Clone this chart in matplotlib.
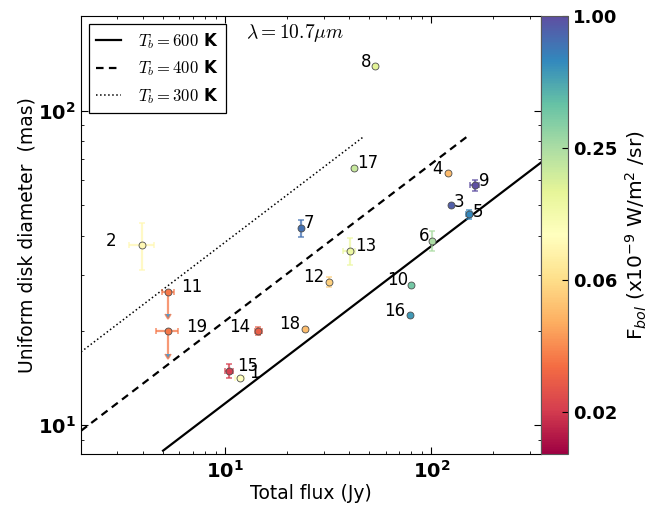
import numpy as np
import matplotlib
matplotlib.use('Agg')
import matplotlib.pyplot as plt
from matplotlib.colors import LogNorm
from matplotlib.cm import ScalarMappable
from matplotlib.font_manager import FontProperties
from matplotlib.lines import Line2D
from matplotlib.ticker import FuncFormatter, LogLocator, NullFormatter

# ---------------- data ----------------
names = [str(i) for i in range(1, 20)]
flux = [11.8, 3.95, 124, 121, 152, 101, 23.3, 53, 162, 79.6,
        5.27, 31.8, 40.1, 14.5, 10.4, 78.5, 42.1, 24.5, 5.27]
diam = [14.1, 37.5, 50.2, 63.2, 46.8, 38.6, 42.3, 138.7, 57.9, 28.0,
        26.6, 28.6, 35.9, 19.9, 14.9, 22.4, 65.8, 20.2, 19.9]
flux_err = [0.6, 0.55, 0, 0, 5, 0, 0, 0, 7.5, 0,
            0.35, 0, 2.7, 0.57, 0.46, 0, 0, 0, 0.63]
diam_err = [0, 6.3, 0, 0, 1.5, 2.9, 2.5, 0, 2.4, 0,
            4.0, 1.0, 3.5, 0.6, 0.8, 0, 0, 0, 3.0]
upper_limit = [False] * 10 + [True] + [False] * 7 + [True]
fbol = [0.10, 0.09, 0.87, 0.045, 0.63, 0.25, 0.75, 0.16, 1.0, 0.36,
        0.027, 0.055, 0.14, 0.022, 0.016, 0.55, 0.2, 0.046, 0.027]

# model lines (two end points each, straight in log-log)
tb_labels = ['600', '400', '300']
line_flux = [[5.0, 400.0], [2.0, 150.0], [2.0, 47.3]]
line_diam = [[8.3, 74.2], [9.6, 83.0], [17.1, 83.0]]

cbar_ticks = [1.0, 0.25, 0.0625, 0.015625]
cbar_ticklabels = ['1.00', '0.25', '0.06', '0.02']

# label placement (pixels): horizontal alignment, dx, dy
label_ha = ['left', 'right', 'left', 'right', 'left', 'right', 'left', 'right', 'left', 'right',
            'left', 'right', 'left', 'right', 'left', 'right', 'left', 'right', 'left']
label_dx = [9, -26, 3.5, -5.5, 3.5, -3, 3, -3.5, 4, -2.5,
            13, -4, 5.5, -8, 8.5, -4, 3.5, -5.5, 18]
label_dy = [0.5, -1, -1.7, -0.3, -2.8, -0.3, 0, -0.7, -1, -0.7,
            -0.8, 0, -0.2, -0.3, -0.3, -0.8, -0.4, -0.3, -0.5]

# ---------------- figure ----------------
W, H = 668, 507
fig = plt.figure(figsize=(W / 100, H / 100), dpi=100)
ax = fig.add_axes([81 / W, (H - 454) / H, 460 / W, 438 / H])
cax = fig.add_axes([541 / W, (H - 454) / H, 27 / W, 438 / H])

cmap = plt.get_cmap('Spectral')
norm = LogNorm(vmin=0.01, vmax=1.0)

styles = [dict(ls='-', lw=1.6), dict(ls=(0, (3.4, 2.4)), lw=1.6), dict(ls=':', lw=1.1)]
handles = []
for fx, dy, st, lab in zip(line_flux, line_diam, styles, tb_labels):
    ax.plot(fx, dy, color='k', **st, zorder=1)
    handles.append(Line2D([], [], color='k', **st))

for i in range(len(names)):
    c = cmap(norm(fbol[i]))
    xe = flux_err[i] if flux_err[i] > 0 else None
    ye = diam_err[i] if diam_err[i] > 0 else None
    if xe is not None or ye is not None:
        ax.errorbar(flux[i], diam[i], xerr=xe, yerr=ye,
                    uplims=upper_limit[i], fmt='none', ecolor=c,
                    elinewidth=1.6, capsize=2.5, capthick=1.2, alpha=0.75, zorder=2)
    ax.plot(flux[i], diam[i], 'o', mfc=c, mec='0.3', mew=0.6, ms=5, zorder=3)
    ax.annotate(names[i], xy=(flux[i], diam[i]), xytext=(label_dx[i], label_dy[i]),
                textcoords='offset pixels', ha=label_ha[i], va='baseline',
                fontsize=12, zorder=4)

ax.set_xscale('log')
ax.set_yscale('log')
ax.set_xlim(2.0, 340)
ax.set_ylim(8.1, 200)

bold_fmt = FuncFormatter(lambda v, p: r'$\mathbf{10^{%d}}$' % int(round(np.log10(v))))
for axis in (ax.xaxis, ax.yaxis):
    axis.set_major_locator(LogLocator(base=10))
    axis.set_major_formatter(bold_fmt)
    axis.set_minor_locator(LogLocator(base=10, subs=np.arange(2, 10)))
    axis.set_minor_formatter(NullFormatter())
ax.tick_params(which='both', direction='in', top=True, right=True, labelsize=14)
ax.tick_params(which='major', length=5, width=0.8)
ax.tick_params(which='minor', length=2.5, width=0.6)
ax.tick_params(axis='x', pad=4)

ax.set_xlabel('Total flux (Jy)', fontsize=13.5, labelpad=2)
ax.set_ylabel('Uniform disk diameter  (mas)', fontsize=13.5, labelpad=1)

leg_fp = FontProperties(size=12, weight='bold', math_fontfamily='cm')
leg = ax.legend(handles, [r'$T_b=%s$ K' % t for t in tb_labels], loc='upper left',
                prop=leg_fp, fancybox=False, edgecolor='k', framealpha=1,
                handlelength=1.5, labelspacing=0.45, borderaxespad=0.45,
                borderpad=0.45, handletextpad=1.0)
leg.get_frame().set_linewidth(0.9)

ax.text(0.359, 0.961, r'$\lambda=10.7\mu m$', transform=ax.transAxes,
        ha='left', va='center', fontsize=14, math_fontfamily='cm')

sm = ScalarMappable(norm=norm, cmap=cmap)
cb = fig.colorbar(sm, cax=cax)
cb.set_ticks(cbar_ticks)
cb.set_ticklabels(cbar_ticklabels)
cax.minorticks_off()
cax.tick_params(direction='in', length=4, labelsize=13)
for t in cax.get_yticklabels():
    t.set_fontweight('bold')
cb.outline.set_edgecolor('0.35')
cb.set_label(r'F$_{bol}$ (x10$^{-9}$ W/m$^{2}$ /sr)', fontsize=14.5, labelpad=5)

fig.savefig('out.png', dpi=100)
